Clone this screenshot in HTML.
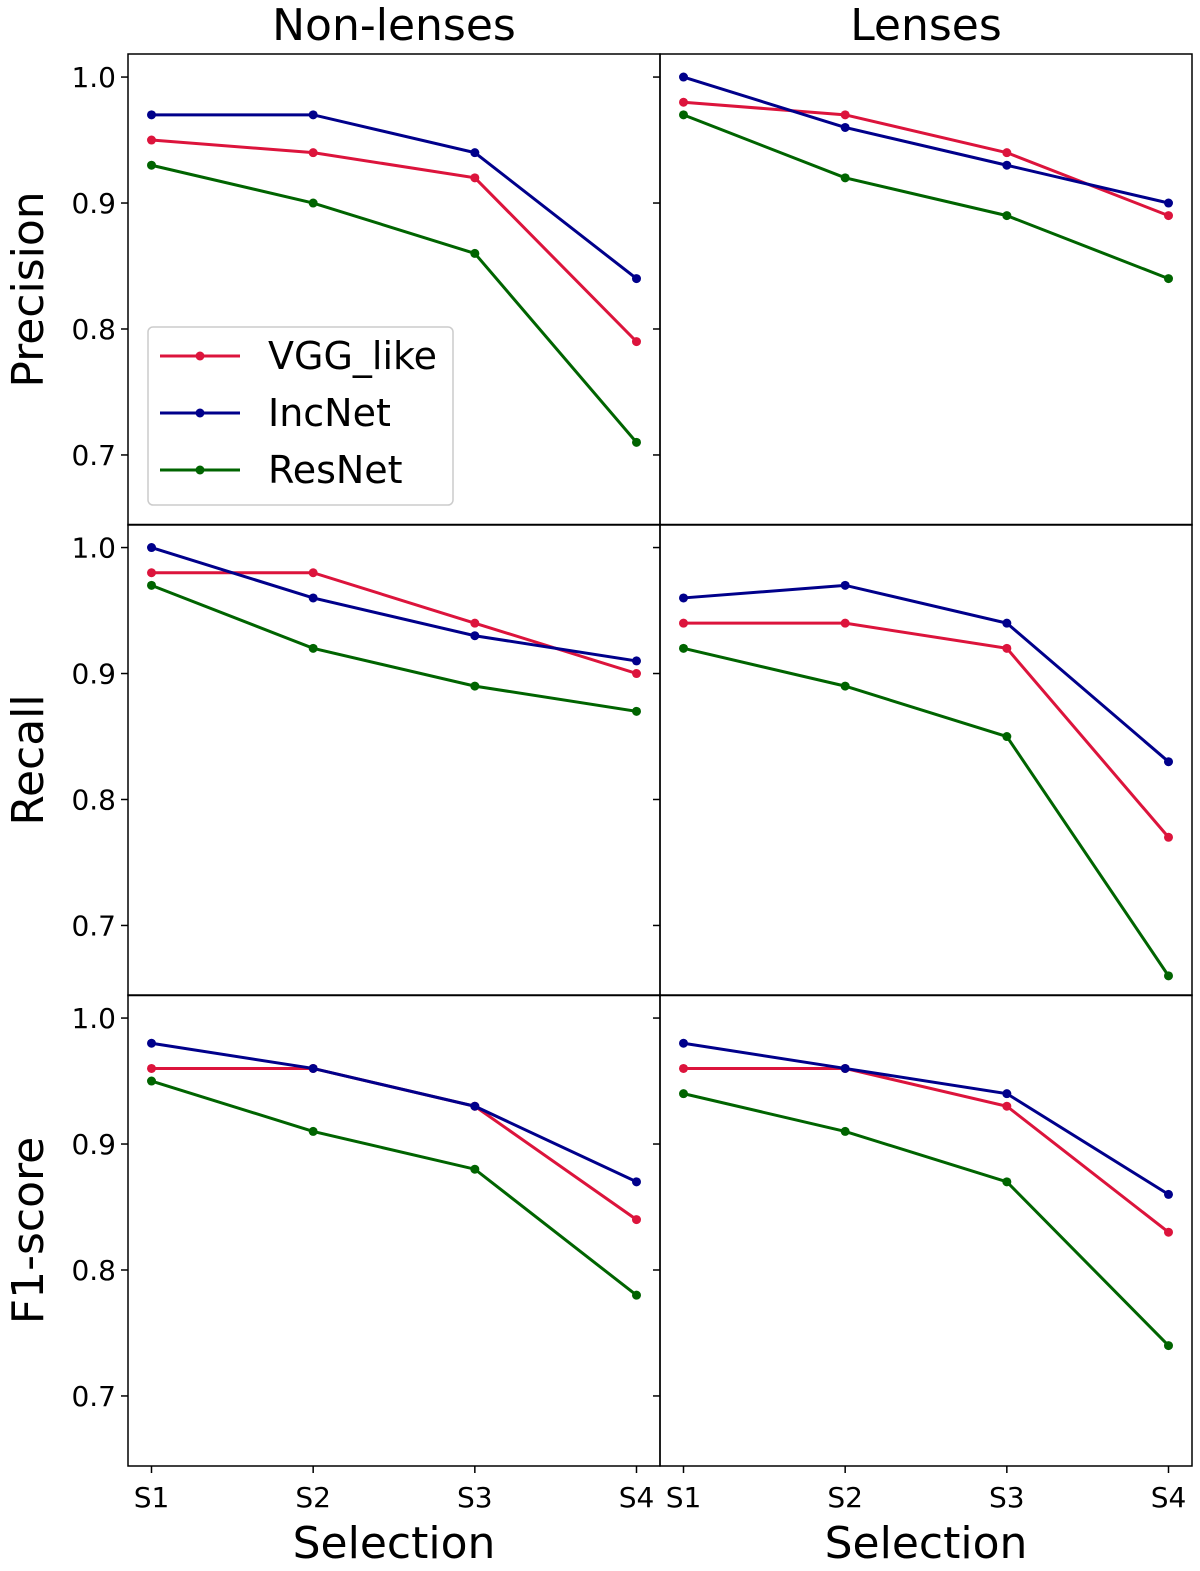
<!DOCTYPE html>
<html><head><meta charset="utf-8"><style>
body{margin:0;background:#fff}
svg text{font-family:"DejaVu Sans","Liberation Sans",sans-serif;fill:#000}
</style></head><body>
<svg id="c" width="1200" height="1566"></svg>
<script>
const categories=["S1","S2","S3","S4"];
const seriesNames=["VGG_like","IncNet","ResNet"];
const colors=["#dc143c","#00008b","#006400"];
const rowLabels=["Precision","Recall","F1-score"];
const colLabels=["Non-lenses","Lenses"];
const yTicks=[0.7,0.8,0.9,1.0];
const precNon=[[0.95,0.94,0.92,0.79],[0.97,0.97,0.94,0.84],[0.93,0.90,0.86,0.71]];
const precLen=[[0.98,0.97,0.94,0.89],[1.00,0.96,0.93,0.90],[0.97,0.92,0.89,0.84]];
const recNon=[[0.98,0.98,0.94,0.90],[1.00,0.96,0.93,0.91],[0.97,0.92,0.89,0.87]];
const recLen=[[0.94,0.94,0.92,0.77],[0.96,0.97,0.94,0.83],[0.92,0.89,0.85,0.66]];
const f1Non=[[0.96,0.96,0.93,0.84],[0.98,0.96,0.93,0.87],[0.95,0.91,0.88,0.78]];
const f1Len=[[0.96,0.96,0.93,0.83],[0.98,0.96,0.94,0.86],[0.94,0.91,0.87,0.74]];
const data=[[precNon,precLen],[recNon,recLen],[f1Non,f1Len]];

const svg=document.getElementById('c');
const NS='http://www.w3.org/2000/svg';
function mk(t,a,p){const e=document.createElementNS(NS,t);for(const k in a)e.setAttribute(k,a[k]);(p||svg).appendChild(e);return e;}
const X0=[128,660],PW=532,Y0=[54,524.5,995],PH=471;
const YMIN=0.6444,YMAX=1.0183;
function xs(c,i){return X0[c]+23.5+i*(485/3);}
function ys(r,v){return Y0[r]+PH*(YMAX-v)/(YMAX-YMIN);}
for(let r=0;r<3;r++)for(let c=0;c<2;c++){
  const g=mk('g',{});
  
  
  yTicks.forEach(t=>{const y=ys(r,t);
    mk('line',{x1:X0[c]-7,x2:X0[c],y1:y,y2:y,stroke:'#000','stroke-width':1.5},g);
    if(c==0){const tx=mk('text',{x:X0[c]-12,y:y+10,'text-anchor':'end','font-size':28},g);tx.textContent=t.toFixed(1);
      }
  });
  if(r==2)categories.forEach((s,i)=>{const x=xs(c,i);
    mk('line',{x1:x,x2:x,y1:Y0[r]+PH,y2:Y0[r]+PH+7,stroke:'#000','stroke-width':1.5},g);
    const tx=mk('text',{x:x,y:1507,'text-anchor':'middle','font-size':28},g);tx.textContent=s;
    
  });
  data[r][c].forEach((vals,s)=>{
    const pts=vals.map((v,i)=>xs(c,i)+','+ys(r,v)).join(' ');
    const pl=mk('polyline',{points:pts,fill:'none',stroke:colors[s],'stroke-width':3},g);
    
    
    vals.forEach((v,i)=>{const p=mk('circle',{cx:xs(c,i),cy:ys(r,v),r:4.5,fill:colors[s]},g);
      });
  });
  mk('rect',{x:X0[c],y:Y0[r],width:PW,height:PH,fill:'none',stroke:'#000','stroke-width':1.5},g);
}
colLabels.forEach((l,c)=>{const t=mk('text',{x:X0[c]+PW/2,y:40,'text-anchor':'middle','font-size':44});t.textContent=l;
  
  const t2=mk('text',{x:X0[c]+PW/2,y:1558,'text-anchor':'middle','font-size':44});t2.textContent='Selection';
  });
rowLabels.forEach((l,r)=>{const cy=Y0[r]+PH/2;const t=mk('text',{x:0,y:0,'text-anchor':'middle','font-size':44,transform:`translate(43,${cy}) rotate(-90)`});t.textContent=l;
  });
const lg=mk('g',{});


mk('rect',{x:148,y:327,width:305,height:178,rx:5,fill:'#fff',stroke:'#ccc','stroke-width':1.5},lg);
seriesNames.forEach((n,s)=>{const y=356+s*57;
  mk('line',{x1:160,x2:240,y1:y,y2:y,stroke:colors[s],'stroke-width':3},lg);
  mk('circle',{cx:200,cy:y,r:4.5,fill:colors[s]},lg);
  const t=mk('text',{x:268,y:y+13,'font-size':38},lg);t.textContent=n;
  });
</script>
</body></html>
